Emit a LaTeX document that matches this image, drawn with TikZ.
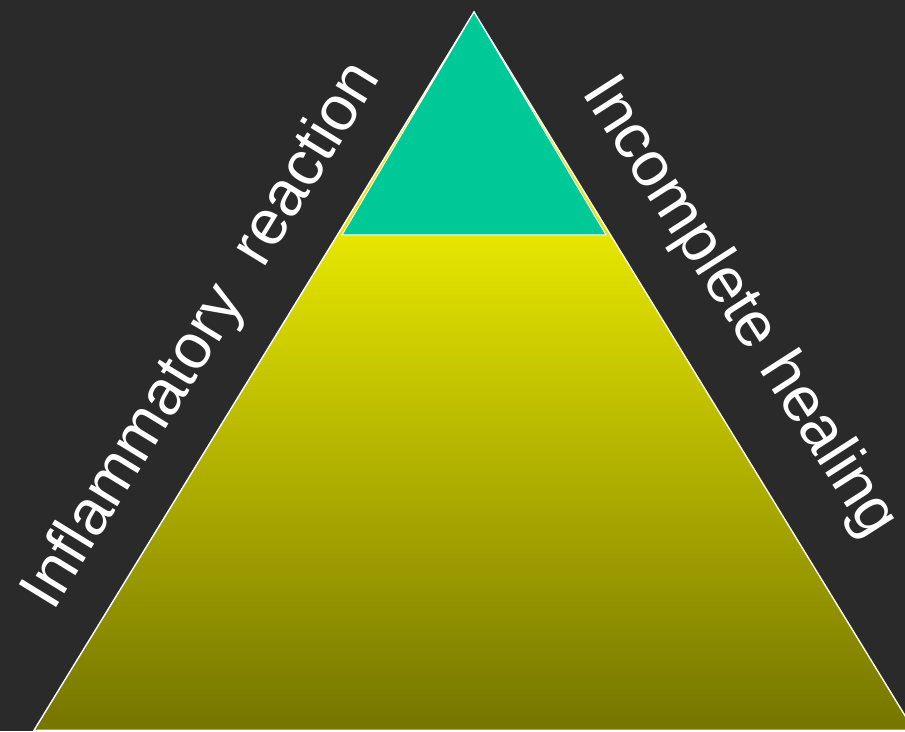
\documentclass[tikz,border=0pt]{standalone}
\usepackage{fontspec}
\setmainfont{Liberation Sans}
\usepackage{xcolor}
\usetikzlibrary{positioning, calc}

\definecolor{bgdark}{HTML}{2A2A2A}
\definecolor{tealtop}{HTML}{00C998}
\definecolor{yellowtop}{HTML}{E6E600}
\definecolor{olivebot}{HTML}{757500}

\begin{document}
\begin{tikzpicture}[
    x=1pt, y=1pt,
    outline/.style={draw=white, line width=1.4pt, line join=miter},
    sidelabel/.style={text=white, font=\fontsize{63.5}{68}\selectfont,
                      inner sep=0pt, anchor=base west},
]
% --- Canvas ---
\fill[bgdark] (0, 0) rectangle (905, 731);
\useasboundingbox (0, 0) rectangle (905, 731);
\clip (0, 0) rectangle (905, 731);

% --- Corners ---
\coordinate (apex) at (474, 719);
\coordinate (baseL) at (34, 0.7);
\coordinate (baseR) at (914, 0.7);
\coordinate (cutL) at (337.3, 496);
\coordinate (cutR) at (610.7, 496);
\coordinate (tipL) at (342, 496);
\coordinate (tipR) at (606, 496);

% --- Pyramid body ---
\fill[yellowtop] (apex) -- (baseL) -- (baseR) -- cycle;
\shade[top color=yellowtop, bottom color=olivebot]
    (cutL) -- (baseL) -- (baseR) -- (cutR) -- cycle;
\draw[outline] (apex) -- (baseL) -- (baseR) -- cycle;

% --- Tip ---
\filldraw[fill=tealtop, outline, line width=1pt]
    (apex) -- (tipL) -- (tipR) -- cycle;

% --- Side labels ---
\node[sidelabel, rotate=58.5] (inflam) at (53, 118)
    {Inflammatory~ reaction};
\node[sidelabel, rotate=-57.3] (heal) at (581, 639)
    {Incomplete healing};
\end{tikzpicture}
\end{document}
